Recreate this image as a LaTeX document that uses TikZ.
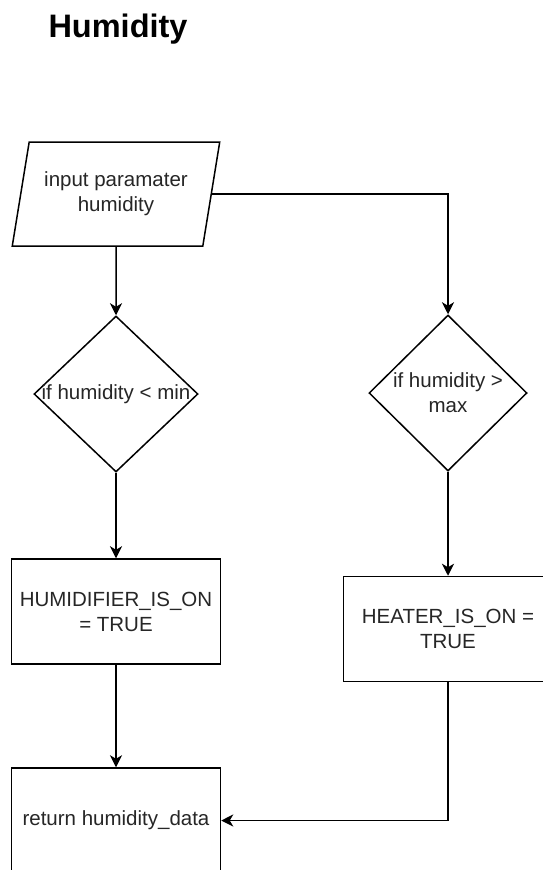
\documentclass[tikz,border=0pt]{standalone}
\usepackage{fontspec}
\setmainfont{Liberation Sans}
\usetikzlibrary{shapes.geometric,arrows.meta}
\begin{document}
\begin{tikzpicture}[x=1pt,y=-1pt,
  every node/.style={font=\fontsize{20.5}{25}\selectfont, text=black!85},
  conn/.style={line width=1.5pt, -{Stealth[length=12pt,width=12pt,inset=3.5pt]}},
  shp/.style={draw, line width=1.5pt, inner sep=0pt},
  io/.style={shp, trapezium, trapezium left angle=72.4, trapezium right angle=107.6, trapezium stretches=true, minimum width=208pt, minimum height=104pt, align=center},
  dec/.style={shp, diamond, minimum height=156pt},
  box/.style={shp, rectangle, minimum width=209pt, minimum height=105pt, align=center},
  lbl/.style={align=center}]
\useasboundingbox (0,0) rectangle (543,870);
\fill[white] (0,0) rectangle (543,870);
\clip (0,0) rectangle (543,870);
\node[anchor=base west, font=\fontsize{32.5}{38}\selectfont\bfseries, text=black] (title) at (45,37) {Humidity};
\node[io] (in) at (116,194) {input paramater\\humidity};
\node[dec, minimum width=164pt, label={[lbl]center:if humidity < min}] (d1) at (116,394) {};
\node[dec, minimum width=158pt, label={[lbl]center:if humidity >\\max}] (d2) at (448,393) {};
\node[box] (b1) at (116,611.5) {HUMIDIFIER\_IS\_ON\\= TRUE};
\node[box] (b2) at (448,629) {HEATER\_IS\_ON =\\TRUE};
\node[box] (b3) at (116,820.5) {return humidity\_data};
\draw[conn] (in.south) -- (d1.north);
\draw[conn] (in.east) -| (d2.north);
\draw[conn] (d1.south) -- (b1.north);
\draw[conn] (d2.south) -- (b2.north);
\draw[conn] (b1.south) -- (b3.north);
\draw[conn] (b2.south) |- (b3.east);
\end{tikzpicture}
\end{document}
